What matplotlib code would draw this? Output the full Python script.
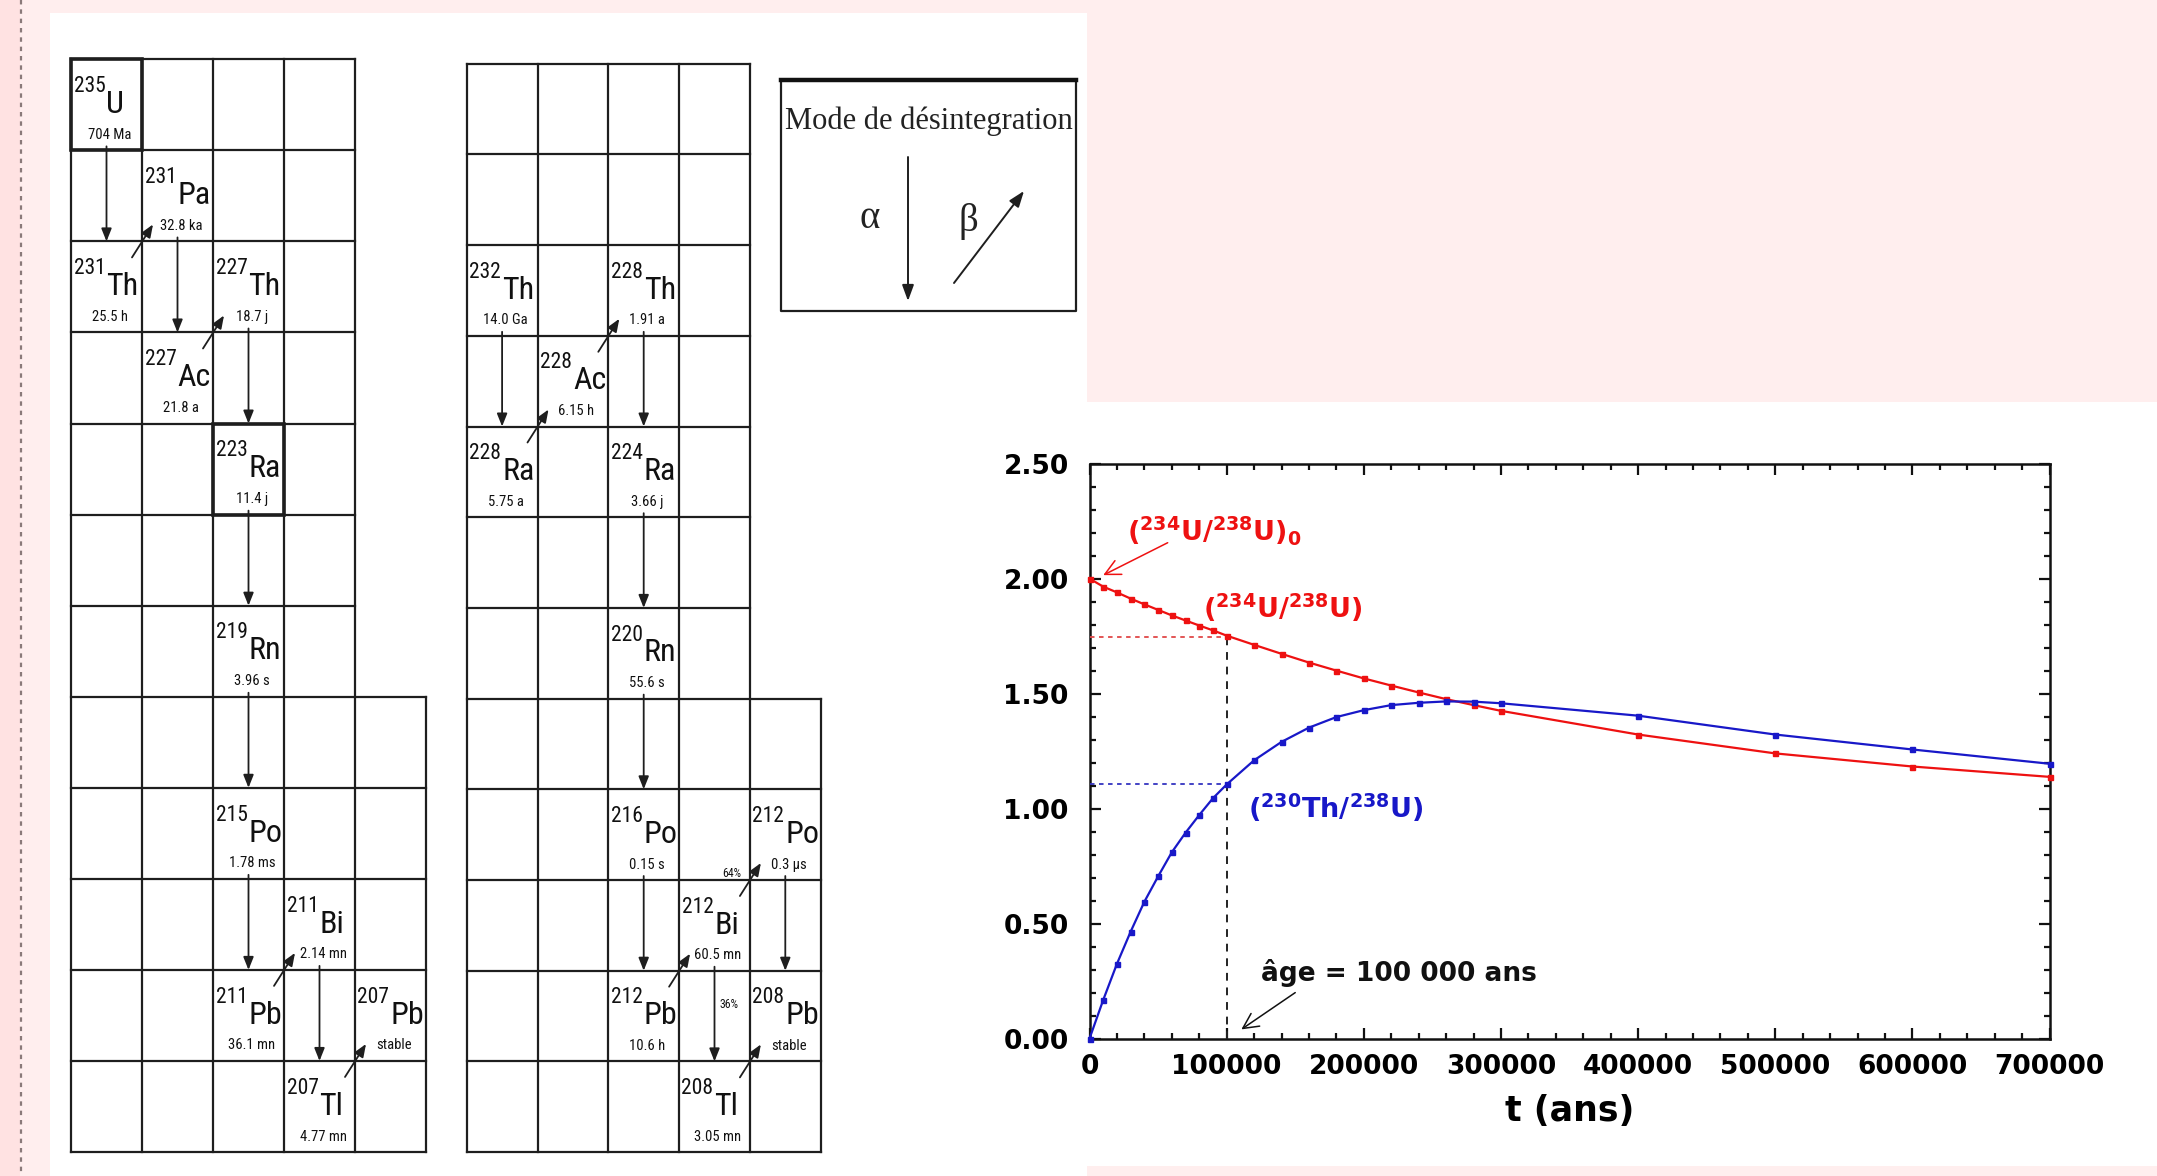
import matplotlib
matplotlib.use("Agg")
import matplotlib.pyplot as plt
import matplotlib.font_manager as fm
from matplotlib.patches import Rectangle
from matplotlib.ticker import MultipleLocator

# ---------------------------------------------------------------- data
# Graph: activity ratios versus time
t_years = [0, 10000, 20000, 30000, 40000, 50000, 60000, 70000, 80000, 90000,
           100000, 120000, 140000, 160000, 180000, 200000, 220000, 240000,
           260000, 280000, 300000, 400000, 500000, 600000, 700000]
ratio_u234_u238 = [2.00, 1.965, 1.94, 1.913, 1.888, 1.864, 1.84, 1.818, 1.796,
                   1.775, 1.752, 1.712, 1.673, 1.635, 1.600, 1.566, 1.535,
                   1.505, 1.476, 1.450, 1.425, 1.322, 1.240, 1.183, 1.138]
ratio_th230_u238 = [0.0, 0.168, 0.325, 0.465, 0.595, 0.705, 0.81, 0.895, 0.972,
                    1.045, 1.105, 1.21, 1.29, 1.352, 1.398, 1.428, 1.45, 1.46,
                    1.466, 1.465, 1.458, 1.404, 1.322, 1.257, 1.195]
x_ticks = [0, 100000, 200000, 300000, 400000, 500000, 600000, 700000]
x_tick_labels = ["0", "100000", "200000", "300000", "400000", "500000",
                 "600000", "700000"]
y_ticks = [0.0, 0.5, 1.0, 1.5, 2.0, 2.5]
y_tick_labels = ["0.00", "0.50", "1.00", "1.50", "2.00", "2.50"]
age_example = 100000
u_ratio_at_age = 1.747
th_ratio_at_age = 1.105

# Chain 1 : 235U family  (row = line in the grid, col = column in the grid)
mass1 = ["235", "231", "231", "227", "227", "223", "219", "215", "211", "211", "207", "207"]
sym1 = ["U", "Pa", "Th", "Th", "Ac", "Ra", "Rn", "Po", "Bi", "Pb", "Tl", "Pb"]
half1 = ["704 Ma", "32.8 ka", "25.5 h", "18.7 j", "21.8 a", "11.4 j", "3.96 s",
         "1.78 ms", "2.14 mn", "36.1 mn", "4.77 mn", "stable"]
row1 = [0, 1, 2, 2, 3, 4, 6, 8, 9, 10, 11, 10]
col1 = [0, 1, 0, 2, 1, 2, 2, 2, 3, 2, 3, 4]
alpha1 = [(0, 2), (1, 4), (3, 5), (5, 6), (6, 7), (7, 9), (8, 10)]
beta1 = [(2, 1), (4, 3), (9, 8), (10, 11)]
boxed1 = [0, 5]

# Chain 2 : 232Th family
mass2 = ["232", "228", "228", "228", "224", "220", "216", "212", "212", "212", "208", "208"]
sym2 = ["Th", "Ra", "Ac", "Th", "Ra", "Rn", "Po", "Pb", "Bi", "Po", "Tl", "Pb"]
half2 = ["14.0 Ga", "5.75 a", "6.15 h", "1.91 a", "3.66 j", "55.6 s", "0.15 s",
         "10.6 h", "60.5 mn", "0.3 µs", "3.05 mn", "stable"]
row2 = [2, 4, 3, 2, 4, 6, 8, 10, 9, 8, 11, 10]
col2 = [0, 0, 1, 2, 2, 2, 2, 2, 3, 4, 3, 4]
alpha2 = [(0, 1), (3, 4), (4, 5), (5, 6), (6, 7), (8, 10), (9, 11)]
beta2 = [(1, 2), (2, 3), (7, 8), (8, 9), (10, 11)]
boxed2 = []
branch_labels2 = [("64%", 8, 0.74, -0.07), ("36%", 8, 0.71, 1.37)]

legend_title = "Mode de désintegration"

# ---------------------------------------------------------------- fonts


def _w(v):
    if isinstance(v, (int, float)):
        return int(v)
    return int(fm.weight_dict.get(str(v).lower(), 400))


def pick_regular(cands):
    for n, weights in cands:
        for w in weights:
            for f in fm.fontManager.ttflist:
                if f.name == n and f.style == "normal" and _w(f.weight) == w:
                    return n, w
    return None


found = pick_regular([("Liberation Sans Narrow", (400,)),
                      ("Roboto Condensed", (400, 300)),
                      ("Open Sans Condensed", (400, 300)),
                      ("DejaVu Sans Condensed", (400,))])
if found:
    NARROW, NW = found
    SYM_FS, MASS_FS, HALF_FS = 23, 15.5, 10.5
else:
    NARROW, NW = "Open Sans", 400
    SYM_FS, MASS_FS, HALF_FS = 20, 12, 8.5


def pick(*names):
    avail = {f.name for f in fm.fontManager.ttflist}
    for n in names:
        if n in avail:
            return n
    return "DejaVu Sans"


SERIF = pick("Liberation Serif", "DejaVu Serif")

plt.rcParams["mathtext.fontset"] = "dejavusans"
plt.rcParams["mathtext.default"] = "bf"

# ---------------------------------------------------------------- figure
W, H = 2157, 1176
fig = plt.figure(figsize=(W / 100, H / 100), dpi=100)
fig.patch.set_facecolor("#FFEEEE")

bg = fig.add_axes([0, 0, 1, 1])
bg.set_xlim(0, W)
bg.set_ylim(H, 0)
bg.axis("off")
bg.set_zorder(0)

# page pieces
bg.add_patch(Rectangle((0, 0), 20, H, facecolor="#FFE2E2", edgecolor="none"))
bg.plot([21, 21], [0, H], color="#8a7a7a", lw=1.6, ls=(0, (2, 2.2)))
bg.add_patch(Rectangle((50, 13), 1087 - 50, H - 13, facecolor="white", edgecolor="none"))
bg.add_patch(Rectangle((1087, 402), W - 1087, 1166 - 402, facecolor="white", edgecolor="none"))

LC = "#1e1e1e"
TXT = dict(family=NARROW, fontweight=NW, color="#111")


def draw_chain(x0, y0, cw, rh, mass, sym, half, rows, cols, alphas, betas,
               boxed, notes=()):
    # grid lines
    for k in range(13):
        ncol = 4 if k < 7 else 5
        bg.plot([x0, x0 + ncol * cw], [y0 + k * rh] * 2, color=LC, lw=1.6)
    for k in range(5):
        bg.plot([x0 + k * cw] * 2, [y0, y0 + 12 * rh], color=LC, lw=1.6)
    bg.plot([x0 + 5 * cw] * 2, [y0 + 7 * rh, y0 + 12 * rh], color=LC, lw=1.6)
    for i in boxed:
        bg.add_patch(Rectangle((x0 + cols[i] * cw, y0 + rows[i] * rh), cw, rh,
                               facecolor="none", edgecolor=LC, lw=2.6))
    # labels
    for m, s, h, r, c in zip(mass, sym, half, rows, cols):
        xs = x0 + (c + 0.50) * cw
        bg.text(xs, y0 + (r + 0.59) * rh, s, ha="left", va="baseline",
                fontsize=SYM_FS, **TXT)
        bg.text(xs - 1, y0 + (r + 0.36) * rh, m, ha="right", va="baseline",
                fontsize=MASS_FS, **TXT)
        bg.text(x0 + (c + 0.55) * cw, y0 + (r + 0.83) * rh, h, ha="center",
                va="center", fontsize=HALF_FS, **TXT)
    # alpha decays : straight down
    for p, d in alphas:
        xa = x0 + (cols[p] + 0.5) * cw
        bg.annotate("", xy=(xa, y0 + rows[d] * rh),
                    xytext=(xa, y0 + (rows[p] + 1) * rh - 4),
                    arrowprops=dict(arrowstyle="-|>,head_length=0.55,head_width=0.22",
                                    color=LC, lw=1.3, shrinkA=0, shrinkB=0,
                                    mutation_scale=14))
    # beta decays : diagonal up-right through the shared corner
    for p, d in betas:
        cx = x0 + (cols[p] + 1) * cw
        cy = y0 + rows[p] * rh
        bg.annotate("", xy=(cx + 11, cy - 17), xytext=(cx - 10, cy + 16),
                    arrowprops=dict(arrowstyle="-|>,head_length=0.55,head_width=0.22",
                                    color=LC, lw=1.3, shrinkA=0, shrinkB=0,
                                    mutation_scale=14))
    for txt, i, dx, dy in notes:
        bg.text(x0 + (cols[i] + dx) * cw, y0 + (rows[i] + dy) * rh, txt,
                ha="center", va="center", fontsize=HALF_FS - 2, **TXT)


draw_chain(71, 59.3, 71, 91.06, mass1, sym1, half1, row1, col1, alpha1, beta1, boxed1)
draw_chain(466.7, 63.7, 70.8, 90.7, mass2, sym2, half2, row2, col2, alpha2, beta2,
           boxed2, branch_labels2)

# legend box
bx0, by0, bx1, by1 = 781, 80, 1076, 311
bg.plot([bx0, bx0, bx1, bx1], [by0, by1, by1, by0], color=LC, lw=1.6)
bg.plot([bx0, bx1], [by0, by0], color="#111", lw=3.2)
bg.text((bx0 + bx1) / 2, 121, legend_title, ha="center", va="center",
        fontsize=22, family=SERIF, color="#222")
bg.text(870, 219, "α", ha="center", va="center", fontsize=28, family=SERIF, color="#222")
bg.text(968, 222, "β", ha="center", va="center", fontsize=28, family=SERIF, color="#222")
bg.annotate("", xy=(908, 301), xytext=(908, 157),
            arrowprops=dict(arrowstyle="-|>,head_length=0.6,head_width=0.22",
                            color=LC, lw=1.4, shrinkA=0, shrinkB=0, mutation_scale=16))
bg.annotate("", xy=(1024, 191), xytext=(954, 283),
            arrowprops=dict(arrowstyle="-|>,head_length=0.6,head_width=0.22",
                            color=LC, lw=1.4, shrinkA=0, shrinkB=0, mutation_scale=16))

# ---------------------------------------------------------------- graph
RED = "#EE1111"
BLUE = "#1818C8"
ax = fig.add_axes([1089.5 / W, (H - 1038.6) / H, 960.1 / W, 575 / H])
ax.set_zorder(2)
ax.set_facecolor("white")
ax.plot(t_years, ratio_u234_u238, color=RED, lw=1.6, marker="s", ms=3.6,
        clip_on=False, zorder=4)
ax.plot(t_years, ratio_th230_u238, color=BLUE, lw=1.6, marker="s", ms=3.6,
        clip_on=False, zorder=4)
ax.plot([0, age_example], [u_ratio_at_age] * 2, color="#E04848", lw=1.3,
        ls=(0, (2.5, 2.5)), zorder=3)
ax.plot([age_example] * 2, [0, u_ratio_at_age], color="#222", lw=1.4,
        ls=(0, (4, 3.5)), zorder=3)
ax.plot([0, age_example], [th_ratio_at_age] * 2, color="#3434C0", lw=1.3,
        ls=(0, (2.5, 2.5)), zorder=3)

ax.set_xlim(0, 700000)
ax.set_ylim(0, 2.5)
ax.set_xticks(x_ticks, x_tick_labels, fontsize=19, fontweight="bold",
              family="DejaVu Sans")
ax.set_yticks(y_ticks, y_tick_labels, fontsize=19, fontweight="bold",
              family="DejaVu Sans")
ax.xaxis.set_minor_locator(MultipleLocator(20000))
ax.yaxis.set_minor_locator(MultipleLocator(0.1))
ax.tick_params(which="both", direction="in", top=True, right=True,
               width=1.6, color="#111")
ax.tick_params(which="major", length=8)
ax.tick_params(which="minor", length=4.5)
ax.tick_params(axis="x", pad=11)
ax.tick_params(axis="y", pad=15)
for sp in ax.spines.values():
    sp.set_linewidth(1.8)
    sp.set_color("#111")
ax.set_xlabel("t (ans)", fontsize=25, fontweight="bold", family="DejaVu Sans",
              labelpad=10)

ax.text(27000, 2.21, r"($^{234}$U/$^{238}$U)$_{0}$", color=RED, fontsize=19.5,
        fontweight="bold", ha="left", va="center")
ax.text(82500, 1.875, r"($^{234}$U/$^{238}$U)", color=RED, fontsize=19.5,
        fontweight="bold", ha="left", va="center")
ax.text(115600, 1.005, r"($^{230}$Th/$^{238}$U)", color=BLUE, fontsize=19.5,
        fontweight="bold", ha="left", va="center")
ax.text(125400, 0.285, "âge = 100 000 ans", color="#111", fontsize=19,
        fontweight="bold", ha="left", va="center")
ax.annotate("", xy=(10000, 2.015), xytext=(57000, 2.156),
            arrowprops=dict(arrowstyle="->,head_length=0.5,head_width=0.25",
                            color=RED, lw=1.1, shrinkA=0, shrinkB=0,
                            mutation_scale=22))
ax.annotate("", xy=(110700, 0.04), xytext=(150000, 0.20),
            arrowprops=dict(arrowstyle="->,head_length=0.5,head_width=0.25",
                            color="#111", lw=1.1, shrinkA=0, shrinkB=0,
                            mutation_scale=22))

fig.savefig("out.png", dpi=100, facecolor=fig.get_facecolor())
